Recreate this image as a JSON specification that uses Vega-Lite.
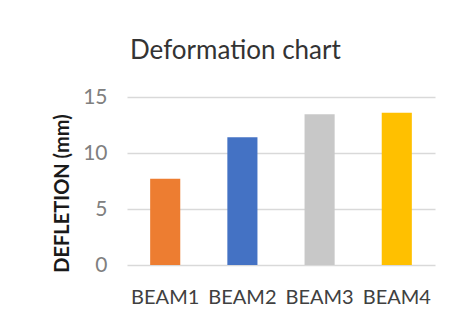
{
  "$schema": "https://vega.github.io/schema/vega-lite/v6.json",
  "width": 308,
  "height": 168,
  "autosize": {"type": "none"},
  "padding": {"left": 127, "top": 97, "right": 24, "bottom": 62},
  "background": "white",
  "title": {
    "text": "Deformation chart",
    "anchor": "start",
    "frame": "group",
    "dx": 3,
    "offset": 1,
    "baseline": "alphabetic",
    "font": "Lato",
    "fontSize": 26,
    "fontWeight": "normal",
    "color": "#333333"
  },
  "data": {
    "values": [
      {"beam": "BEAM1", "deflection": 7.7},
      {"beam": "BEAM2", "deflection": 11.4},
      {"beam": "BEAM3", "deflection": 13.45},
      {"beam": "BEAM4", "deflection": 13.6}
    ]
  },
  "mark": {"type": "bar"},
  "encoding": {
    "x": {
      "field": "beam",
      "type": "nominal",
      "sort": null,
      "scale": {"paddingInner": 0.61, "paddingOuter": 0.3},
      "axis": {
        "title": null,
        "labelAngle": 0,
        "labelFont": "Lato",
        "labelFontSize": 20,
        "labelColor": "#404040",
        "labelPadding": 22,
        "labelBaseline": "top",
        "ticks": false,
        "domain": false
      }
    },
    "y": {
      "field": "deflection",
      "type": "quantitative",
      "scale": {"domain": [0, 15], "nice": false},
      "axis": {
        "values": [0, 5, 10, 15],
        "title": "DEFLETION (mm)",
        "titleFont": "Lato",
        "titleFontSize": 20,
        "titleFontWeight": "bold",
        "titleColor": "#1a1a1a",
        "titlePadding": 10,
        "titleY": 96,
        "labelFont": "Lato",
        "labelFontSize": 21,
        "labelColor": "#808080",
        "labelPadding": 20,
        "ticks": false,
        "domain": false,
        "grid": true,
        "gridColor": "#d9d9d9",
        "gridWidth": 1.5
      }
    },
    "color": {
      "field": "beam",
      "type": "nominal",
      "scale": {
        "domain": ["BEAM1", "BEAM2", "BEAM3", "BEAM4"],
        "range": ["#ED7D31", "#4472C4", "#C8C8C8", "#FFC000"]
      },
      "legend": null
    }
  },
  "config": {"view": {"stroke": null}}
}
